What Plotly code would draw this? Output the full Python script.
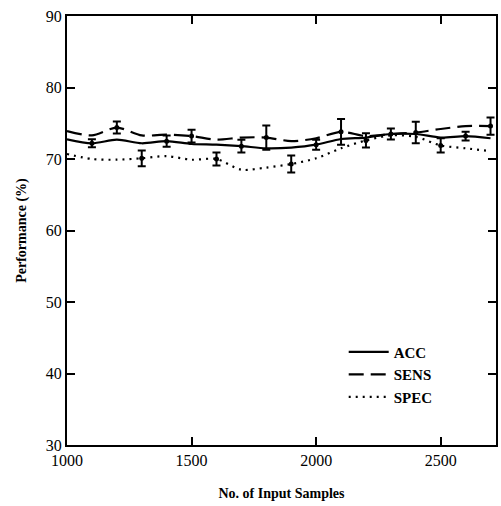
import plotly.graph_objects as go

# ---- data ----
x_samples = [1000, 1100, 1200, 1300, 1400, 1500, 1600, 1700, 1800,
             1900, 2000, 2100, 2200, 2300, 2400, 2500, 2600, 2700]
acc = [72.75, 72.2, 72.7, 72.2, 72.5, 72.1, 72.0, 71.8, 71.5,
       71.6, 72.0, 72.8, 73.0, 73.5, 73.5, 73.0, 73.2, 72.9]
sens = [73.9, 73.3, 74.4, 73.3, 73.4, 73.2, 72.7, 73.0, 73.0,
        72.5, 72.9, 73.8, 73.2, 73.5, 73.7, 74.2, 74.6, 74.6]
spec = [70.7, 70.0, 69.9, 70.1, 70.4, 69.9, 70.0, 68.5, 68.8,
        69.3, 70.1, 71.5, 72.6, 73.3, 73.1, 71.9, 71.5, 71.1]

err_x = [1100, 1200, 1300, 1400, 1500, 1600, 1700, 1800, 1900,
         2000, 2100, 2200, 2300, 2400, 2500, 2600, 2700]
err_series = ["ACC", "SENS", "SPEC", "ACC", "SENS", "SPEC", "ACC", "SENS", "SPEC",
              "ACC", "SENS", "SPEC", "ACC", "SENS", "SPEC", "ACC", "SENS"]
err_half = [0.55, 0.85, 1.1, 0.8, 0.9, 0.9, 0.9, 1.7, 1.2,
            0.7, 1.8, 1.0, 0.77, 1.5, 1.0, 0.6, 1.2]

x_ticks = [1000, 1500, 2000, 2500]
y_ticks = [30, 40, 50, 60, 70, 80, 90]

series = {"ACC": acc, "SENS": sens, "SPEC": spec}
dashes = {"ACC": "solid", "SENS": "15px,7px", "SPEC": "2px,5px"}

FONT = "Liberation Serif"

fig = go.Figure()
for name, vals in series.items():
    fig.add_trace(go.Scatter(
        x=x_samples, y=vals, mode="lines", name=name,
        line=dict(color="black", width=2.2, dash=dashes[name],
                  shape="spline", smoothing=0.8),
    ))

# error bars at selected samples
ex, ey, ee = [], [], []
for xv, s, h in zip(err_x, err_series, err_half):
    idx = x_samples.index(xv)
    ex.append(xv)
    ey.append(series[s][idx])
    ee.append(h)
fig.add_trace(go.Scatter(
    x=ex, y=ey, mode="markers", showlegend=False,
    marker=dict(color="black", size=5),
    error_y=dict(type="data", array=ee, visible=True,
                 color="black", thickness=2, width=4),
))

axis_common = dict(
    showline=True, linecolor="black", linewidth=2, mirror="ticks",
    ticks="inside", ticklen=8, tickwidth=2, tickcolor="black",
    showgrid=False, zeroline=False,
    tickfont=dict(family=FONT, size=16, color="black"),
)

fig.update_layout(
    width=501, height=506,
    margin=dict(l=67, r=3, t=16, b=61),
    paper_bgcolor="white", plot_bgcolor="white",
    font=dict(family=FONT, color="black"),
    xaxis=dict(range=[1000, 2722], tickvals=x_ticks,
               title=dict(text="<b>No. of Input Samples</b>",
                          font=dict(family=FONT, size=14), standoff=20),
               **axis_common),
    yaxis=dict(range=[30, 90], tickvals=y_ticks,
               title=dict(text="<b>Performance (%)</b>",
                          font=dict(family=FONT, size=14), standoff=16),
               **axis_common),
    legend=dict(x=0.645, y=0.255, xanchor="left", yanchor="top",
                bgcolor="rgba(0,0,0,0)", tracegroupgap=0,
                font=dict(family=FONT, size=15, color="black", weight="bold"),
                itemwidth=40),
    showlegend=True,
)

fig.write_html("out.html")
